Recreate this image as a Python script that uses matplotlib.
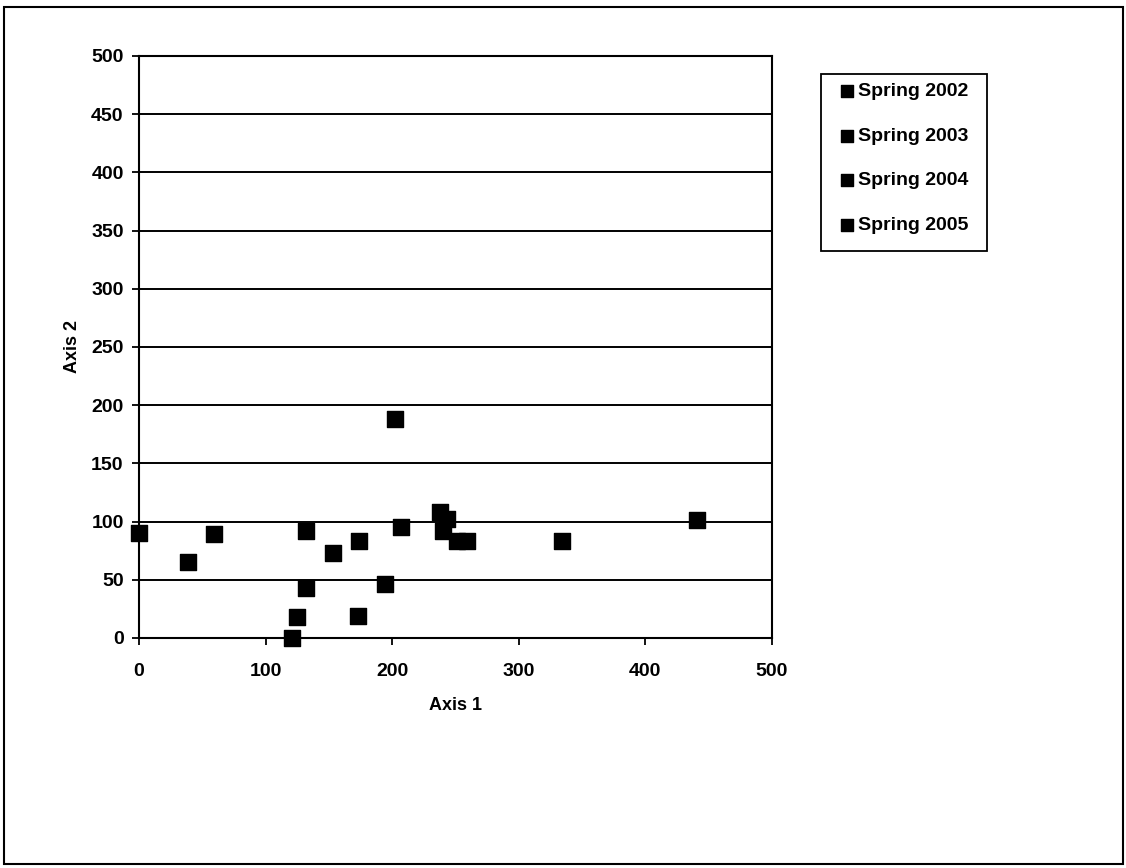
import matplotlib.pyplot as plt
from matplotlib.patches import Rectangle

plt.rcParams['font.family'] = ['Liberation Sans', 'DejaVu Sans']

series = ['Spring 2002', 'Spring 2003', 'Spring 2004', 'Spring 2005']

# points, split across the four seasons
x_2002 = [0, 39, 59, 132, 132]
y_2002 = [90, 65, 89, 92, 43]
x_2003 = [125, 121, 153, 174, 173]
y_2003 = [18, 0, 73, 83, 19]
x_2004 = [194, 202, 207, 238, 243]
y_2004 = [46, 188, 95, 108, 102]
x_2005 = [240, 251, 259, 334, 441]
y_2005 = [92, 83, 83, 83, 101]

xs = [x_2002, x_2003, x_2004, x_2005]
ys = [y_2002, y_2003, y_2004, y_2005]

ticks = [0, 100, 200, 300, 400, 500]
yticks = [0, 50, 100, 150, 200, 250, 300, 350, 400, 450, 500]

W, H = 1126, 868
fig = plt.figure(figsize=(W / 100, H / 100), dpi=100)
ax = fig.add_axes([0.1234, 0.265, 0.5622, 0.6705])

for x, y, name in zip(xs, ys, series):
    ax.scatter(x, y, marker='s', s=121, color='black', label=name,
               zorder=3, clip_on=False)

ax.set_xlim(0, 500)
ax.set_ylim(0, 500)
ax.set_xticks(ticks)
ax.set_yticks(yticks)
ax.yaxis.grid(True, color='black', linewidth=1.4)
ax.set_axisbelow(True)
for sp in ax.spines.values():
    sp.set_linewidth(1.5)
ax.tick_params(direction='out', length=5, width=1.3, labelsize=14, pad=6)
ax.tick_params(axis='x', pad=13)
for lab in ax.get_xticklabels() + ax.get_yticklabels():
    lab.set_fontweight('bold')

ax.set_xlabel('Axis 1', fontsize=13, fontweight='bold', labelpad=12)
ax.set_ylabel('Axis 2', fontsize=13, fontweight='bold', labelpad=7.5)

leg = ax.legend(loc='upper left', bbox_to_anchor=(841.6 / W, 1 - 82.6 / H),
                bbox_transform=fig.transFigure, borderaxespad=0,
                frameon=False, prop={'size': 14, 'weight': 'bold'},
                labelspacing=1.39, handlelength=0.6, handletextpad=0.25,
                borderpad=0, markerscale=0.75)

# legend box
fig.add_artist(Rectangle((821 / W, 1 - 251 / H), 166 / W, 177 / H,
                         transform=fig.transFigure, fill=False,
                         edgecolor='black', linewidth=1.3))

# outer chart border
fig.add_artist(Rectangle((4 / W, 1 - 864 / H), 1119 / W, 857 / H,
                         transform=fig.transFigure, fill=False,
                         edgecolor='black', linewidth=1.5))

fig.savefig('out.png', dpi=100)
